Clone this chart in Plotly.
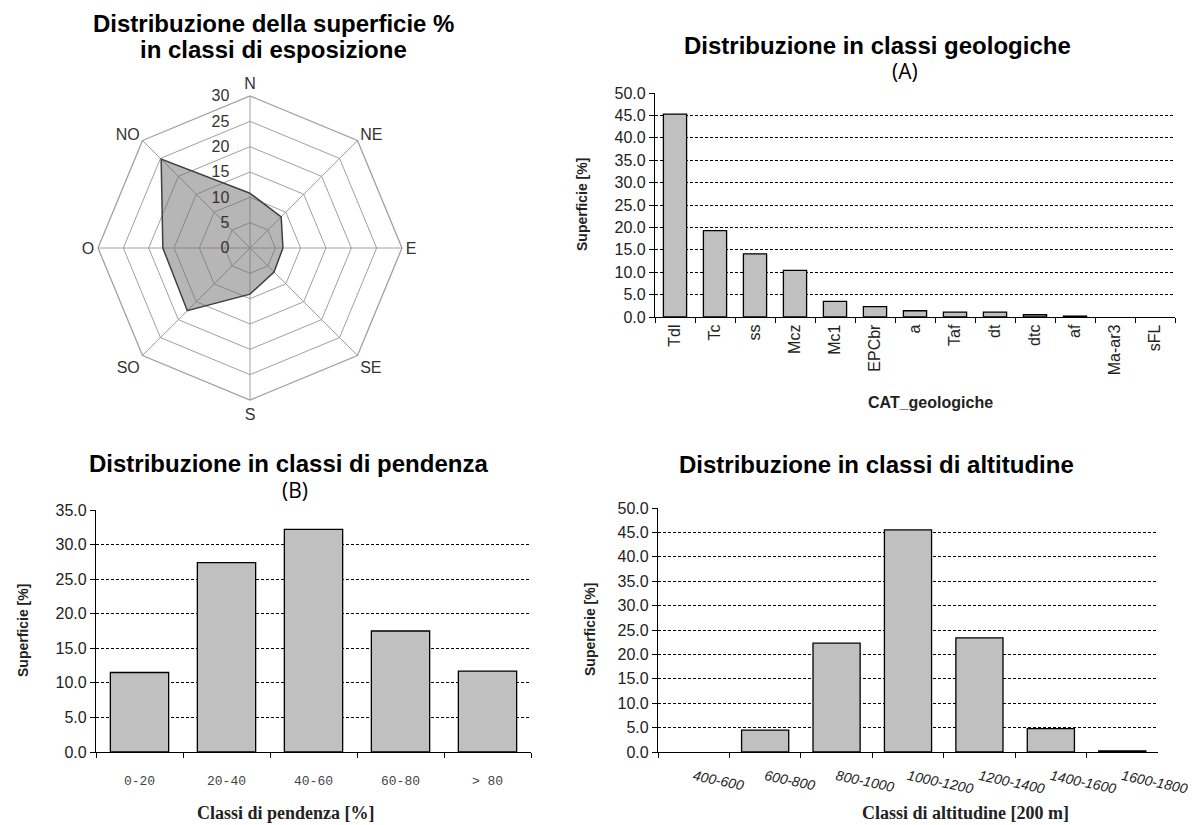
import plotly.graph_objects as go

# ---------------- data ----------------
exp_dirs = ["N", "NE", "E", "SE", "S", "SO", "O", "NO"]
exp_vals = [10.8, 8.7, 6.5, 6.7, 9.1, 17.5, 17.2, 24.8]

geo_cats = ["Tdl", "Tc", "ss", "Mcz", "Mc1", "EPCbr", "a", "Taf", "dt", "dtc", "af", "Ma-ar3", "sFL"]
geo_vals = [45.3, 19.3, 14.1, 10.4, 3.5, 2.3, 1.4, 1.1, 1.1, 0.5, 0.2, 0.0, 0.0]

pend_cats = ["0-20", "20-40", "40-60", "60-80", "> 80"]
pend_vals = [11.5, 27.4, 32.2, 17.5, 11.7]

alt_cats = ["400-600", "600-800", "800-1000", "1000-1200", "1200-1400", "1400-1600", "1600-1800"]
alt_vals = [0.0, 4.5, 22.3, 45.5, 23.4, 4.8, 0.2]

# ---------------- helpers ----------------
# page has an 8px body margin: figure is placed at (8, 8)
OFF = 8
W, H = 1196 - OFF, 825 - OFF
def px(x): return (x - OFF) / W
def py(y): return 1 - (y - OFF) / H

SANS = "Liberation Sans, Arial, sans-serif"
SERIF = "Liberation Serif, Times New Roman, serif"
MONO = "Liberation Mono, DejaVu Sans Mono, monospace"
BAR_FILL = "#c0c0c0"

def edge_widths(vals):
    return [0 if v == 0 else 1.3 for v in vals]

fig = go.Figure()

# Radar
fig.add_trace(go.Scatterpolar(
    r=exp_vals + [exp_vals[0]], theta=exp_dirs + [exp_dirs[0]],
    mode="lines", fill="toself", fillcolor="rgba(110,110,110,0.5)",
    line=dict(color="#404040", width=1.5), showlegend=False, subplot="polar"))

fig.add_trace(go.Bar(x=geo_cats, y=geo_vals,
                     marker=dict(color=BAR_FILL, line=dict(color="black", width=edge_widths(geo_vals))),
                     width=0.58, xaxis="x", yaxis="y", showlegend=False))
fig.add_trace(go.Bar(x=pend_cats, y=pend_vals,
                     marker=dict(color=BAR_FILL, line=dict(color="black", width=edge_widths(pend_vals))),
                     width=0.67, xaxis="x2", yaxis="y2", showlegend=False))
fig.add_trace(go.Bar(x=alt_cats, y=alt_vals,
                     marker=dict(color=BAR_FILL, line=dict(color="black", width=edge_widths(alt_vals))),
                     width=0.66, xaxis="x3", yaxis="y3", showlegend=False))

grid = dict(showgrid=True, gridcolor="black", gridwidth=1, griddash="3px,2px",
            showline=True, linecolor="black", linewidth=1.3, ticks="outside",
            ticklen=5, tickcolor="black", zeroline=False, automargin=False,
            tickfont=dict(family=SANS, size=16, color="#222"), tickformat=".1f", dtick=5)
xbase = dict(showline=True, linecolor="black", linewidth=1.3, ticks="outside", tickson="boundaries",
             ticklen=5, tickcolor="black", showgrid=False, type="category", automargin=False)

NBSP = "\u00a0"
fig.update_layout(
    width=W, height=H, paper_bgcolor="white", plot_bgcolor="white",
    margin=dict(l=0, r=0, t=0, b=0, autoexpand=False), showlegend=False,
    polar=dict(
        domain=dict(x=[px(98), px(402)], y=[py(400), py(96)]),
        gridshape="linear", bgcolor="white",
        angularaxis=dict(direction="clockwise", rotation=90, showline=True, linecolor="#a0a0a0",
                         linewidth=1.3, gridcolor="#a0a0a0", gridwidth=1.3, ticks="",
                         tickfont=dict(family=SANS, size=16, color="#333")),
        radialaxis=dict(range=[0, 30], dtick=5, angle=90, tickangle=90, showline=False, ticks="",
                        gridcolor="#a0a0a0", gridwidth=1.3, side="counterclockwise",
                        ticksuffix=NBSP * 4,
                        tickfont=dict(family=SANS, size=16, color="#333")),
    ),
    xaxis=dict(**xbase, domain=[px(655), px(1175)], anchor="y", tickangle=-90,
               tickfont=dict(family=SANS, size=16, color="#222")),
    yaxis=dict(**grid, domain=[py(317), py(93)], anchor="x", range=[0, 50]),
    xaxis2=dict(**xbase, domain=[px(96), px(531)], anchor="y2",
                tickfont=dict(family=MONO, size=13, color="#444"), ticklabelstandoff=16),
    yaxis2=dict(**grid, domain=[py(752), py(510)], anchor="x2", range=[0, 35]),
    xaxis3=dict(**xbase, domain=[px(658), px(1158)], anchor="y3", tickangle=12,
                tickfont=dict(family=SANS, size=14, color="#222", style="italic"),
                ticklabelstandoff=10),
    yaxis3=dict(**grid, domain=[py(752), py(508)], anchor="x3", range=[0, 50]),
)

def ann(text, x, y, size=24, family=SANS, bold=True, angle=0, color="black"):
    fig.add_annotation(text=(f"<b>{text}</b>" if bold else text), x=px(x), y=py(y), xref="paper", yref="paper",
                       showarrow=False, xanchor="center", yanchor="middle", textangle=angle,
                       font=dict(family=family, size=size, color=color))

# chart titles
ann("Distribuzione della superficie %", 273, 24, size=24)
ann("in classi di esposizione", 273, 50, size=24)
ann("Distribuzione in classi geologiche", 877, 45, size=24)
ann("(A)", 905, 71, size=21, family="Open Sans, Lato, sans-serif", bold=False)
ann("Distribuzione in classi di pendenza", 288, 463, size=24)
ann("(B)", 295, 490, size=21, family="Open Sans, Lato, sans-serif", bold=False)
ann("Distribuzione in classi di altitudine", 876, 464, size=24)

# axis titles
ann("CAT_geologiche", 930, 403, size=16, family=SANS, color="#222")
ann("Classi di pendenza [%]", 286, 813, size=18, family=SERIF, color="#222")
ann("Classi di altitudine [200 m]", 965, 813, size=18, family=SERIF, color="#222")
ann("Superficie [%]", 582, 205, size=14, angle=-90, color="#222")
ann("Superficie [%]", 23, 631, size=14, angle=-90, color="#222")
ann("Superficie [%]", 590, 630, size=14, angle=-90, color="#222")

fig.write_html("out.html")
